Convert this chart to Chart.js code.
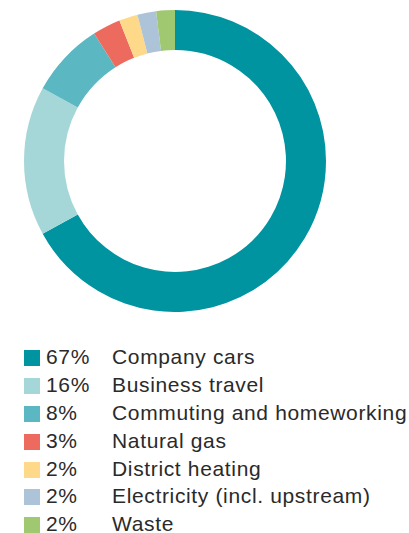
<!DOCTYPE html>
<html>
<head>
<meta charset="utf-8">
<script src="https://cdn.jsdelivr.net/npm/chart.js@4"></script>
<style>
  body { margin: 0; background: #fff; width: 409px; height: 533px; overflow: hidden; position: relative; font-family: "Liberation Sans", Arial, sans-serif; }
  #wrap { position: absolute; left: 24px; top: 10px; width: 302px; height: 302px; }
  #legend { position: absolute; left: 24px; top: 343px; }
  .row { position: relative; height: 27.9px; font-size: 21px; color: #2a2a2a; letter-spacing: 0.65px; }
  .sw { position: absolute; left: 0; top: 7px; width: 16px; height: 16px; }
  .pct { position: absolute; left: 22px; top: 0; line-height: 28px; }
  .lbl { position: absolute; left: 88px; top: 0; line-height: 28px; white-space: nowrap; }
</style>
</head>
<body>
<div id="wrap"><canvas id="donut"></canvas></div>
<div id="legend"></div>
<script>
const labels = ["Company cars", "Business travel", "Commuting and homeworking", "Natural gas", "District heating", "Electricity (incl. upstream)", "Waste"];
const shares = [67, 16, 8, 3, 2, 2, 2];
const colors = ["#0093a0", "#a6d7d8", "#5bb8c3", "#ed6b5e", "#ffd98a", "#adc3d7", "#9fc870"];

const legend = document.getElementById("legend");
labels.forEach((name, i) => {
  const row = document.createElement("div");
  row.className = "row";
  row.innerHTML = `<span class="sw" style="background:${colors[i]}"></span>` +
    `<span class="pct">${shares[i]}%</span><span class="lbl">${name}</span>`;
  legend.appendChild(row);
});

new Chart(document.getElementById("donut"), {
  type: "doughnut",
  data: {
    labels: labels,
    datasets: [{
      data: shares,
      backgroundColor: colors,
      borderWidth: 0
    }]
  },
  options: {
    responsive: true,
    maintainAspectRatio: false,
    animation: false,
    cutout: "73.5%",
    plugins: { legend: { display: false }, tooltip: { enabled: false } }
  }
});
</script>
</body>
</html>
